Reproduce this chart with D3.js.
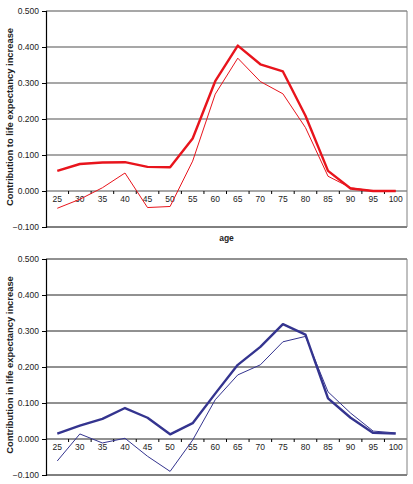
<!DOCTYPE html>
<html>
<head>
<meta charset="utf-8">
<script src="https://cdn.jsdelivr.net/npm/d3@7"></script>
<style>
  body { margin: 0; background: #fff; }
  svg { display: block; font-family: "Liberation Sans", Arial, sans-serif; }
</style>
</head>
<body>
<div id="chart"></div>
<script>
// age groups and tick labels
const ages = ["25","30","35","40","45","50","55","60","65","70","75","80","85","90","95","100"];
const yTicks = [-0.1, 0, 0.1, 0.2, 0.3, 0.4, 0.5];

// top panel (red)
const topThick = [0.056, 0.075, 0.079, 0.080, 0.067, 0.066, 0.146, 0.305, 0.404, 0.352, 0.332, 0.209, 0.056, 0.007, 0.000, 0.000];
const topThin  = [-0.048, -0.023, 0.009, 0.050, -0.046, -0.043, 0.083, 0.269, 0.369, 0.304, 0.270, 0.176, 0.041, 0.009, 0.000, 0.000];

// bottom panel (blue)
const botThick = [0.015, 0.037, 0.056, 0.086, 0.059, 0.013, 0.044, 0.126, 0.206, 0.256, 0.319, 0.290, 0.113, 0.059, 0.017, 0.015];
const botThin  = [-0.061, 0.014, -0.011, 0.002, -0.048, -0.090, -0.003, 0.109, 0.178, 0.206, 0.270, 0.285, 0.131, 0.072, 0.022, 0.017];

const W = 413, H = 484;
const svg = d3.select("#chart").append("svg")
    .attr("width", W)
    .attr("height", H);

function drawPanel(top, yLabel, thick, thin, color, gridColor, gridWidth) {
    const margin = {left: 46, right: 6};
    const plotH = 216;
    const g = svg.append("g").attr("transform", "translate(0," + top + ")");

    const x = d3.scaleBand()
        .domain(ages)
        .range([margin.left, W - margin.right])
        .padding(0);

    const y = d3.scaleLinear()
        .domain([-0.1, 0.5])
        .range([plotH, 0]);

    // gridlines
    g.append("g")
        .selectAll("line")
        .data(yTicks.filter(d => d > -0.1))
        .enter()
        .append("line")
        .attr("x1", margin.left)
        .attr("x2", W - margin.right)
        .attr("y1", d => y(d))
        .attr("y2", d => y(d))
        .attr("stroke", gridColor)
        .attr("stroke-width", gridWidth);

    // plot frame: bottom and right
    g.append("line")
        .attr("x1", margin.left).attr("x2", W - margin.right)
        .attr("y1", y(-0.1)).attr("y2", y(-0.1))
        .attr("stroke", "#000").attr("stroke-width", 1);
    g.append("line")
        .attr("x1", W - margin.right).attr("x2", W - margin.right)
        .attr("y1", y(0.5)).attr("y2", y(-0.1))
        .attr("stroke", "#808080").attr("stroke-width", 1);

    // y axis
    const yAxis = d3.axisLeft(y)
        .tickValues(yTicks)
        .tickFormat(d3.format(".3f"))
        .tickSize(4);
    const ya = g.append("g")
        .attr("transform", "translate(" + margin.left + ",0)")
        .call(yAxis);
    ya.select(".domain").attr("stroke", "#000").attr("stroke-width", 1.2);
    ya.selectAll(".tick line").attr("stroke", "#000");
    ya.selectAll(".tick text")
        .attr("font-size", 8.5)
        .attr("fill", "#222")
        .attr("font-family", "Liberation Sans, Arial, sans-serif");

    // x axis on the zero line, ticks between categories
    const bounds = ages.slice(1).map(a => x(a));
    g.append("g")
        .selectAll("line")
        .data(bounds)
        .enter()
        .append("line")
        .attr("x1", d => d).attr("x2", d => d)
        .attr("y1", y(0)).attr("y2", y(0) + 3)
        .attr("stroke", "#000");

    g.append("g")
        .selectAll("text")
        .data(ages)
        .enter()
        .append("text")
        .attr("x", d => x(d) + x.bandwidth() / 2)
        .attr("y", y(0) + 10.5)
        .attr("text-anchor", "middle")
        .attr("font-size", 8.5)
        .attr("fill", "#222")
        .text(d => d);

    // lines
    const line = d3.line()
        .x((d, i) => x(ages[i]) + x.bandwidth() / 2)
        .y(d => y(d));

    g.append("path")
        .datum(thin)
        .attr("fill", "none")
        .attr("stroke", color)
        .attr("stroke-width", 1)
        .attr("stroke-linejoin", "round")
        .attr("d", line);

    g.append("path")
        .datum(thick)
        .attr("fill", "none")
        .attr("stroke", color)
        .attr("stroke-width", 2.4)
        .attr("stroke-linejoin", "round")
        .attr("d", line);

    // axis titles
    g.append("text")
        .attr("x", (margin.left + W - margin.right) / 2)
        .attr("y", plotH + 14)
        .attr("text-anchor", "middle")
        .attr("font-size", 8.5)
        .attr("font-weight", "bold")
        .attr("fill", "#222")
        .text("age");

    g.append("text")
        .attr("transform", "translate(13," + (plotH / 2 - 2) + ") rotate(-90)")
        .attr("text-anchor", "middle")
        .attr("font-size", 9.4)
        .attr("font-weight", "bold")
        .attr("fill", "#222")
        .text(yLabel);
}

drawPanel(11, "Contribution to life expectancy increase", topThick, topThin, "#e8141c", "#8a8a8a", 1.4);
drawPanel(259, "Contribution in life expectancy increase", botThick, botThin, "#34348f", "#222", 1);
</script>
</body>
</html>
